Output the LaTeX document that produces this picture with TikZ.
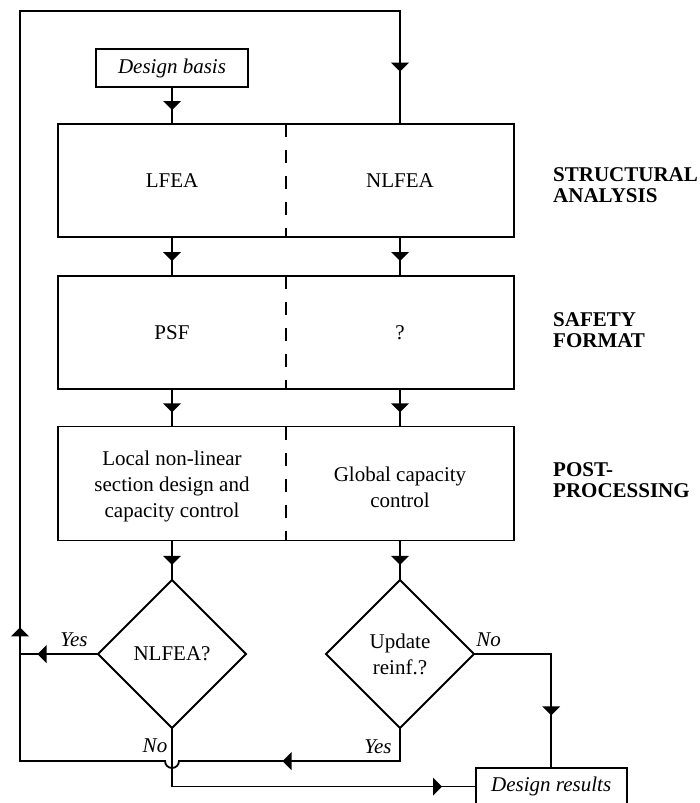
\documentclass[tikz,border=0pt]{standalone}
\usepackage{fontspec}
\setmainfont{Liberation Serif}
\usetikzlibrary{shapes.geometric,decorations.markings,calc}
\newcommand\fsz{\fontsize{21}{26}\selectfont}
\newcommand\fszb{\fontsize{21}{21.5}\selectfont}
\newcommand\tri{\fill (4.5pt,0pt) -- (-4.5pt,9pt) -- (-4.5pt,-9pt) -- cycle;}
\tikzset{
  ln/.style={line width=1.8pt},
  bigbox/.style={draw, line width=1.8pt, rectangle, inner sep=0pt, outer sep=0pt,
    minimum width=456pt, minimum height=113pt},
  smallbox/.style={draw, line width=1.8pt, rectangle, inner sep=0pt, outer sep=0pt,
    minimum height=38pt, font=\fsz\itshape},
  dia/.style={draw, diamond, line width=1.8pt, inner sep=0pt, outer sep=0pt,
    minimum width=148pt, minimum height=148pt, align=center, font=\fsz},
  txt/.style={align=center, font=\fsz, inner sep=0pt},
  lab/.style={font=\fsz\itshape, inner sep=0pt},
  side/.style={align=left, font=\fszb\bfseries, anchor=west, inner sep=0pt},
  divider/.style={line width=1.8pt, dash pattern=on 13pt off 13pt},
  marr/.style={postaction={decorate}, decoration={markings,
    mark=at position #1 with {\tri}}},
  marrthree/.style n args={3}{postaction={decorate}, decoration={markings,
    mark=at position #1 with {\tri},
    mark=at position #2 with {\tri},
    mark=at position #3 with {\tri}}},
}
\begin{document}
\begin{tikzpicture}[x=1pt,y=-1pt]
\useasboundingbox (0,0) rectangle (699,803);

% boxes
\node[smallbox, minimum width=152pt] (ds) at (172,68) {Design basis};
\node[bigbox] (b1) at (286,180.5) {};
\node[bigbox] (b2) at (286,332.5) {};
\node[bigbox, minimum height=114pt] (b3) at (286,483.5) {};
\node[dia] (d1) at (172,654) {NLFEA?};
\node[dia] (d2) at (400,654) {Update\\reinf.?};
\node[smallbox, minimum width=151pt, minimum height=50pt, anchor=north,
  text height=14.5pt, text depth=16.7pt] (dr) at (551.2,767.7) {Design results};

% dividers
\draw[divider] (b1.north) -- (b1.south);
\draw[divider] (b2.north) -- (b2.south);
\draw[divider] (b3.north) -- (b3.south);

% box texts
\node[txt] (t1a) at (172,180.5) {LFEA};
\node[txt] (t1b) at (400,180.5) {NLFEA};
\node[txt] (t2a) at (172,332.5) {PSF};
\node[txt] (t2b) at (400,332.5) {?};
\node[txt] (t3a) at (172,486) {Local non-linear\\section design and\\capacity control};
\node[txt] (t3b) at (400,487) {Global capacity\\control};

% side labels
\node[side] (s1) at (553,185) {STRUCTURAL\\ANALYSIS};
\node[side] (s2) at (553,330) {SAFETY\\FORMAT};
\node[side] (s3) at (553,480) {POST-\\PROCESSING};

% helper coordinates
\coordinate (jl) at (20,761);
\coordinate (tl) at (20,11);
\coordinate (jr) at (172,786.5);

% vertical arrows
\draw[ln, marr=0.5] (ds.south) -- (ds.south |- b1.north);
\draw[ln, marr=0.5] (b1.south -| d1) -- (b2.north -| d1);
\draw[ln, marr=0.5] (b1.south -| d2) -- (b2.north -| d2);
\draw[ln, marr=0.5] (b2.south -| d1) -- (b3.north -| d1);
\draw[ln, marr=0.5] (b2.south -| d2) -- (b3.north -| d2);
\draw[ln, marr=0.5] (b3.south -| d1) -- (d1.north);
\draw[ln, marr=0.5] (b3.south -| d2) -- (d2.north);

% loop back (Update reinf. yes)
\draw[ln, marrthree={146pt}{550pt}{1607pt}]
  (d2.south) -- (d2.south |- jl) -- ($(d1.south |- jl)+(7,0)$) arc(0:180:7)
  -- (jl) -- (tl) -- (tl -| d2) -- (b1.north -| d2);

% NLFEA yes
\draw[ln, marr=56pt] (d1.west) -- (d1.west -| jl);

% NLFEA no
\draw[ln, marr=324pt] (d1.south) -- (jr) -- (jr -| dr.west);

% Update no
\draw[ln, marr=134pt] (d2.east) -- (d2.east -| dr.north) -- (dr.north);

% labels
\node[lab] (ly1) at (74,640) {Yes};
\node[lab] (ln1) at (155,746) {No};
\node[lab] (ly2) at (378,747) {Yes};
\node[lab] (ln2) at (488.5,640) {No};
\end{tikzpicture}
\end{document}
